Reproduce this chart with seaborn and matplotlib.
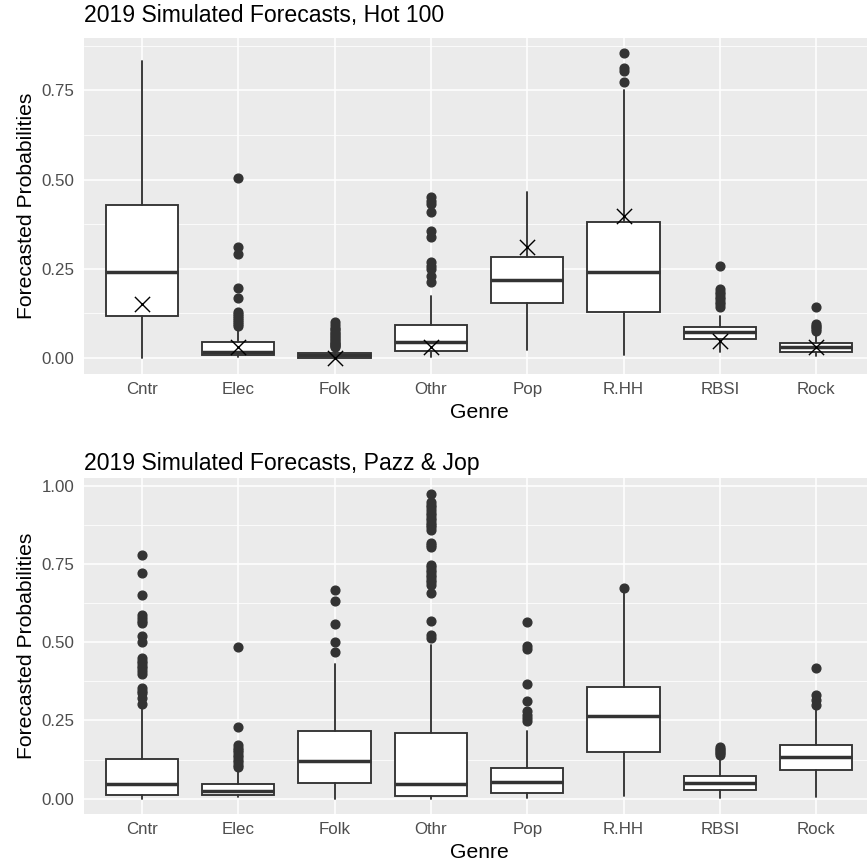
import matplotlib
matplotlib.use("Agg")
import matplotlib.pyplot as plt
import numpy as np
import pandas as pd
import seaborn as sns

# Genres on the x axis
genres = ["Cntr", "Elec", "Folk", "Othr", "Pop", "R.HH", "RBSI", "Rock"]

# Hot 100 box summaries
hot_whislo = [0.000, 0.004, 0.000, 0.004, 0.022, 0.009, 0.016, 0.005]
hot_q1 = [0.117, 0.007, 0.001, 0.020, 0.153, 0.128, 0.053, 0.018]
hot_med = [0.242, 0.016, 0.007, 0.044, 0.219, 0.240, 0.072, 0.030]
hot_q3 = [0.428, 0.044, 0.014, 0.092, 0.284, 0.381, 0.088, 0.041]
hot_whishi = [0.832, 0.085, 0.028, 0.174, 0.466, 0.752, 0.118, 0.068]
hot_fliers = [
    [],
    [0.505, 0.310, 0.291, 0.195, 0.168, 0.130, 0.124, 0.118, 0.112, 0.106, 0.100, 0.095, 0.090],
    [0.100, 0.092, 0.085, 0.080, 0.075, 0.070, 0.066, 0.062, 0.058, 0.054, 0.050, 0.046,
     0.043, 0.040, 0.037, 0.034, 0.031],
    [0.450, 0.440, 0.431, 0.410, 0.356, 0.338, 0.268, 0.258, 0.249, 0.230, 0.214],
    [],
    [0.855, 0.813, 0.804, 0.773],
    [0.257, 0.193, 0.186, 0.179, 0.172, 0.165, 0.158, 0.151, 0.142],
    [0.144, 0.096, 0.091, 0.086, 0.081, 0.077],
]
# Actual outcome markers (x)
hot_actual = [0.151, 0.030, 0.000, 0.032, 0.310, 0.398, 0.048, 0.032]

# Pazz & Jop box summaries
pj_whislo = [0.000, 0.005, 0.000, 0.000, 0.002, 0.008, 0.002, 0.004]
pj_q1 = [0.011, 0.011, 0.050, 0.007, 0.018, 0.148, 0.027, 0.093]
pj_med = [0.047, 0.023, 0.119, 0.047, 0.052, 0.263, 0.050, 0.133]
pj_q3 = [0.127, 0.048, 0.215, 0.210, 0.098, 0.356, 0.071, 0.172]
pj_whishi = [0.290, 0.098, 0.430, 0.490, 0.215, 0.660, 0.124, 0.284]
pj_fliers = [
    [0.777, 0.722, 0.649, 0.587, 0.577, 0.566, 0.561, 0.521, 0.499, 0.449, 0.441, 0.433,
     0.425, 0.417, 0.408, 0.399, 0.353, 0.345, 0.337, 0.321, 0.302],
    [0.483, 0.229, 0.170, 0.162, 0.155, 0.148, 0.140, 0.132, 0.124, 0.116, 0.108, 0.101],
    [0.665, 0.632, 0.559, 0.500, 0.470],
    [0.973, 0.949, 0.938, 0.930, 0.922, 0.914, 0.906, 0.898, 0.890, 0.882, 0.875, 0.867,
     0.859, 0.816, 0.810, 0.805, 0.747, 0.739, 0.731, 0.723, 0.715, 0.707, 0.699, 0.691,
     0.683, 0.656, 0.566, 0.523, 0.513],
    [0.563, 0.487, 0.479, 0.366, 0.313, 0.279, 0.268, 0.258, 0.247],
    [0.672],
    [0.165, 0.160, 0.155, 0.150, 0.145, 0.140],
    [0.417, 0.331, 0.315, 0.300],
]


def draw_panel(ax, title, whislo, q1, med, q3, whishi, fliers, actual, title_pad):
    stats = []
    for i, g in enumerate(genres):
        stats.append(dict(label=g, whislo=whislo[i], q1=q1[i], med=med[i], q3=q3[i],
                          whishi=whishi[i], fliers=fliers[i]))
    pos = np.arange(len(genres))
    ax.bxp(stats, positions=pos, widths=0.75, patch_artist=True, showcaps=False,
           boxprops=dict(facecolor="white", edgecolor="#333333", linewidth=1.35),
           medianprops=dict(color="#333333", linewidth=2.5, solid_capstyle="butt"),
           whiskerprops=dict(color="#333333", linewidth=1.35),
           flierprops=dict(marker="o", markerfacecolor="#333333", markeredgecolor="#333333",
                           markersize=6.3, linestyle="none"),
           zorder=3)
    if actual is not None:
        df = pd.DataFrame({"pos": pos, "val": actual})
        sns.scatterplot(data=df, x="pos", y="val", marker="x", s=120, color="black",
                        linewidth=1.0, ax=ax, legend=False, zorder=4)
    ax.set_xlim(-0.6, len(genres) - 0.4)
    ax.set_xticks(pos)
    ax.set_xticklabels(genres)
    top = max(max(f) if f else 0 for f in fliers)
    ax.set_yticks([0, 0.25, 0.5, 0.75] + ([1.0] if top > 0.9 else []))
    ax.set_yticks(np.arange(0.125, 1.0, 0.25), minor=True)
    ax.yaxis.set_major_formatter(matplotlib.ticker.FormatStrFormatter("%.2f"))
    ax.set_facecolor("#EBEBEB")
    ax.grid(which="major", color="white", linewidth=1.1)
    ax.grid(which="minor", axis="y", color="white", linewidth=0.55)
    ax.set_axisbelow(True)
    for s in ax.spines.values():
        s.set_visible(False)
    ax.tick_params(axis="both", which="major", length=3.6, width=0.8, color="#333333",
                   labelcolor="#4D4D4D", labelsize=12.2)
    ax.tick_params(axis="x", pad=2.2)
    ax.tick_params(axis="y", pad=3.3)
    ax.tick_params(which="minor", length=0)
    ax.set_xlabel("Genre", fontsize=15.2, color="black")
    ax.set_ylabel("Forecasted Probabilities", fontsize=15.2, color="black")
    ax.xaxis.set_label_coords(0.5, -0.085)
    ax.yaxis.set_label_coords(-0.061, 0.5)
    ax.set_title(title, loc="left", fontsize=16.6, color="black", pad=title_pad)


sns.set_theme(style="darkgrid")
plt.rcParams["font.family"] = ["Liberation Sans", "DejaVu Sans"]

fig = plt.figure(figsize=(8.67, 8.67), dpi=100)
ax1 = fig.add_axes([0.0969, 0.5686, 0.9112, 0.3879])
ax2 = fig.add_axes([0.0969, 0.0611, 0.9112, 0.3875])

draw_panel(ax1, "2019 Simulated Forecasts, Hot 100", hot_whislo, hot_q1, hot_med, hot_q3,
           hot_whishi, hot_fliers, hot_actual, 11.5)
ax1.set_ylim(-0.045, 0.898)

draw_panel(ax2, "2019 Simulated Forecasts, Pazz & Jop", pj_whislo, pj_q1, pj_med, pj_q3,
           pj_whishi, pj_fliers, None, 6)
ax2.set_ylim(-0.049, 1.024)

fig.savefig("out.png", dpi=100, facecolor="white")
